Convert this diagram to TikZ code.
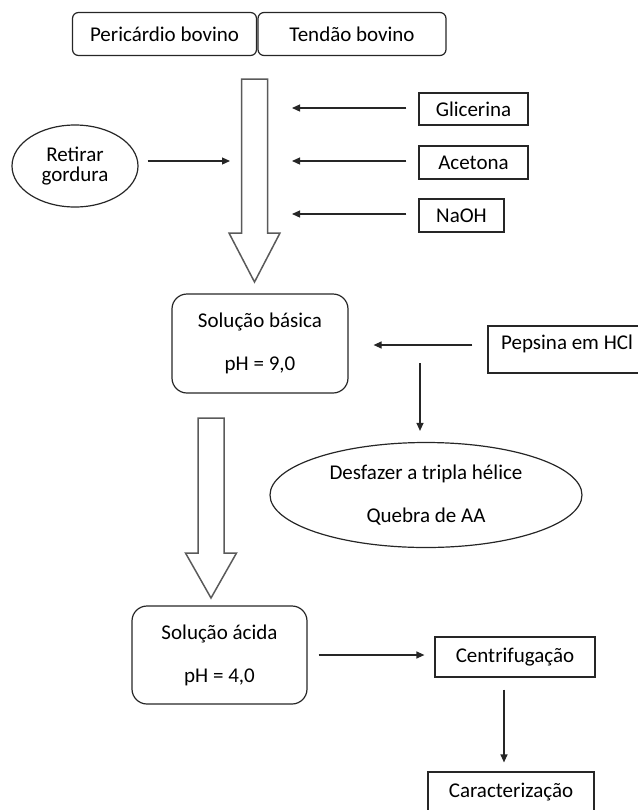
\documentclass[tikz,border=0pt]{standalone}
\usepackage{fontspec}
\setmainfont{Carlito}
\usetikzlibrary{shapes.geometric,arrows.meta}
\definecolor{c_line}{HTML}{262626}
\definecolor{c_hollow}{HTML}{5A5A5A}
\newcommand\BigArrow[4]{%
	\draw[hollow] (#1-13,#2) -- (#1+13,#2) -- (#1+13,#3) -- (#1+25.5,#3)
		-- (#1,#4) -- (#1-25.5,#3) -- (#1-13,#3) -- cycle;}

\begin{document}
\begin{tikzpicture}
[x=0.5pt,y=-0.5pt,font=\fontsize{10.5}{12.6}\selectfont,
 box/.style={draw=c_line,line width=0.6pt,inner sep=0pt,align=center},
 rbox/.style={box,rounded corners=7.5pt},
 oval/.style={box,ellipse},
 flow/.style={c_line,line width=0.6pt,-{Triangle[length=4pt,width=3.5pt]}},
 hollow/.style={draw=c_hollow,line width=0.75pt}]
	\useasboundingbox (0,0) rectangle (638,810);
	\clip (0,0) rectangle (638,810);

	% raw material
	\node[box,rounded corners=3pt,minimum width=92pt,minimum height=21.5pt] (peri) at (164.5,34) {Pericárdio bovino};
	\node[box,rounded corners=3pt,minimum width=94pt,minimum height=21.5pt] (tend) at (352,34) {Tendão bovino};

	% first stage
	\BigArrow{254.5}{79}{233}{282}
	\node[oval,minimum width=63pt,minimum height=41pt] (retirar) at (75,166) {Retirar\\[-2.5pt]gordura};
	\node[box,minimum width=54.5pt,minimum height=16pt] (glic) at (473.5,109) {Glicerina};
	\node[box,minimum width=54.5pt,minimum height=16.5pt] (acet) at (473.5,162.5) {Acetona};
	\node[box,minimum width=42.5pt,minimum height=16.5pt] (naoh) at (461.5,215.5) {NaOH};
	\coordinate (in1) at (230,161);
	\coordinate (r1) at (292,0);
	\draw[flow,shorten <=4.5pt] (retirar.east |- in1) -- (in1);
	\draw[flow,shorten <=6pt] ([yshift=0.5pt]glic.west) -- ([yshift=0.5pt]glic.west -| r1);
	\draw[flow,shorten <=6pt] ([yshift=0.75pt]acet.west) -- ([yshift=0.75pt]acet.west -| r1);
	\draw[flow,shorten <=6pt] ([yshift=0.75pt]naoh.west) -- ([yshift=0.75pt]naoh.west -| r1);

	% basic solution
	\node[rbox,minimum width=88pt,minimum height=49.5pt] (basica) at (260,343.5) {Solução básica\\[9pt]pH = 9,0};
	\node[box,minimum width=79pt,minimum height=23.5pt,text depth=7pt] (pepsina) at (567,349.5) {Pepsina em HCl};
	\node[oval,minimum width=156pt,minimum height=52.5pt] (desfazer) at (426,495) {Desfazer a tripla hélice\\[9pt]Quebra de AA};
	\draw[flow,shorten <=7.5pt,shorten >=12.5pt] ([yshift=2.25pt]pepsina.west) -- ([yshift=2.25pt]pepsina.west -| basica.east);
	\coordinate (p1) at (420,363);
	\draw[flow,shorten >=5.5pt] (p1) -- (p1 |- desfazer.north);

	% acid solution
	\BigArrow{211}{418}{553}{598}
	\node[rbox,minimum width=87.5pt,minimum height=49pt] (acida) at (219.5,655) {Solução ácida\\[9pt]pH = 4,0};
	\node[box,minimum width=80pt,minimum height=20pt] (centri) at (515,657) {Centrifugação};
	\node[box,minimum width=83pt,minimum height=20pt] (caract) at (511,792) {Caracterização};
	\draw[flow,shorten <=5.5pt,shorten >=5pt] (acida.east) -- (acida.east -| centri.west);
	\draw[flow,shorten <=6pt,shorten >=4.5pt] ([xshift=-5.5pt]centri.south) -- ([xshift=-5.5pt]centri.south |- caract.north);
\end{tikzpicture}
\end{document}
